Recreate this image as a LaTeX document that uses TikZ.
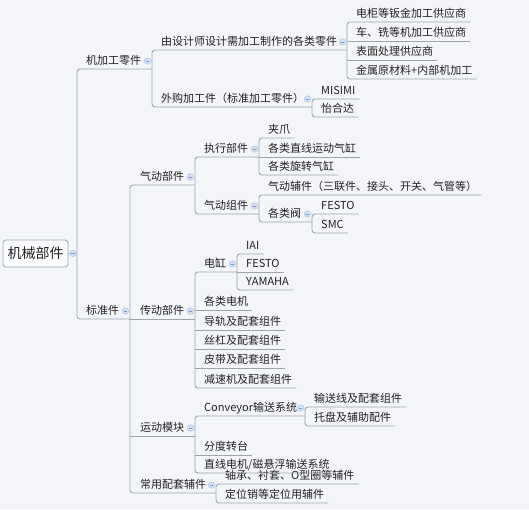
\documentclass[tikz,border=0pt]{standalone}
\usepackage{fontspec}
\newfontfamily\cjk{Noto Sans CJK SC}
\definecolor{bgc}{RGB}{243,245,249}
\definecolor{linec}{RGB}{160,164,170}
\definecolor{txtc}{RGB}{34,34,34}
\definecolor{icofill}{RGB}{214,226,243}
\definecolor{icodraw}{RGB}{172,196,230}
\definecolor{icominus}{RGB}{120,150,200}
\tikzset{
  conn/.style={draw=linec, line width=0.9pt, rounded corners=3pt},
  topic/.style={font=\cjk\fontsize{11}{13}\selectfont, text=txtc, inner xsep=4pt, inner ysep=0pt, text height=8pt, text depth=4pt, anchor=south west},
  ico/.style={circle, minimum size=6.5pt, inner sep=0pt, fill=icofill, draw=icodraw, line width=0.5pt,
    path picture={\draw[icominus, line width=0.6pt] ([xshift=-1.8pt]path picture bounding box.center) -- ([xshift=1.8pt]path picture bounding box.center);}},
  rootbox/.style={draw=linec, fill=white!60!bgc, rounded corners=3pt, line width=0.8pt, minimum width=65pt, minimum height=27pt, inner sep=0pt, font=\cjk\fontsize{14}{16}\selectfont, text=txtc}
}
\begin{document}
\begin{tikzpicture}[x=1pt,y=-1pt]
\fill[bgc] (0,0) rectangle (529,509);
\useasboundingbox (0,0) rectangle (529,509);
% bars
\coordinate (bA) at (77,0);
\coordinate (b1) at (152,0);
\coordinate (b11) at (347,0);
\coordinate (b12) at (312,0);
\coordinate (b2) at (130,0);
\coordinate (b21) at (195,0);
\coordinate (b22) at (195,0);
\coordinate (b23) at (195,0);
\coordinate (b24) at (216,0);
\coordinate (b211) at (259,0);
\coordinate (b212) at (259,0);
\coordinate (b2122) at (312,0);
\coordinate (b221) at (237,0);
\coordinate (b231) at (305,0);
% root
\node[rootbox] (root) at (35.5,253.5) {机械部件};
% level 2
\node[topic] (n1) at (82,69) {机加工零件};
\node[topic] (n2) at (82,319) {标准件};
% under n1
\node[topic] (n11) at (157,50) {由设计师设计需加工制作的各类零件};
\node[topic] (n12) at (157,107) {外购加工件（标准加工零件）};
\node[topic] (n111) at (352,22) {电柜等钣金加工供应商};
\node[topic] (n112) at (352,41) {车、铣等机加工供应商};
\node[topic] (n113) at (352,60) {表面处理供应商};
\node[topic] (n114) at (352,79) {金属原材料+内部机加工};
\node[topic] (n121) at (317,99) {MISIMI};
\node[topic] (n122) at (317,117) {怡合达};
% under n2
\node[topic] (n21) at (136,185) {气动部件};
\node[topic] (n22) at (136,319) {传动部件};
\node[topic] (n23) at (136,436) {运动模块};
\node[topic] (n24) at (136,493) {常用配套辅件};
% pneumatic
\node[topic] (n211) at (200,157) {执行部件};
\node[topic] (n212) at (200,214) {气动组件};
\node[topic] (n2111) at (264,138) {夹爪};
\node[topic] (n2112) at (264,157) {各类直线运动气缸};
\node[topic] (n2113) at (264,175) {各类旋转气缸};
\node[topic] (n2121) at (264,195) {气动辅件（三联件、接头、开关、气管等）};
\node[topic] (n2122) at (264,222) {各类阀};
\node[topic] (n21221) at (317,214) {FESTO};
\node[topic] (n21222) at (317,233) {SMC};
% transmission
\node[topic] (n221) at (200,272) {电缸};
\node[topic] (n222) at (200,310) {各类电机};
\node[topic] (n223) at (200,330) {导轨及配套组件};
\node[topic] (n224) at (200,349) {丝杠及配套组件};
\node[topic] (n225) at (200,368) {皮带及配套组件};
\node[topic] (n226) at (200,388) {减速机及配套组件};
\node[topic] (n2211) at (242,254) {IAI};
\node[topic] (n2212) at (242,272) {FESTO};
\node[topic] (n2213) at (242,290) {YAMAHA};
% motion modules
\node[topic] (n231) at (200,416) {Conveyor输送系统};
\node[topic] (n232) at (200,455) {分度转台};
\node[topic] (n233) at (200,473) {直线电机/磁悬浮输送系统};
\node[topic] (n2311) at (310,407) {输送线及配套组件};
\node[topic] (n2312) at (310,426) {托盘及辅助配件};
% accessories
\node[topic] (n241) at (221,484) {轴承、衬套、O型圈等辅件};
\node[topic] (n242) at (221,503) {定位销等定位用辅件};
% connectors
\draw[conn] (root.east) -- (bA |- root.east);
\draw[conn] (b1 |- n1.south) -- (bA |- n1.south) -- (bA |- n2.south) -- (b2 |- n2.south);
\draw[conn] (b11 |- n11.south) -- (b1 |- n11.south) -- (b1 |- n12.south) -- (b12 |- n12.south);
\draw[conn] (n111.south east) -- (b11 |- n111.south) -- (b11 |- n114.south) -- (n114.south east);
\draw[conn] (b11 |- n112.south) -- (n112.south east);
\draw[conn] (b11 |- n113.south) -- (n113.south east);
\draw[conn] (n121.south east) -- (b12 |- n121.south) -- (b12 |- n122.south) -- (n122.south east);
\draw[conn] (b21 |- n21.south) -- (b2 |- n21.south) -- (b2 |- n24.south) -- (b24 |- n24.south);
\draw[conn] (b2 |- n22.south) -- (b22 |- n22.south);
\draw[conn] (b2 |- n23.south) -- (b23 |- n23.south);
\draw[conn] (b211 |- n211.south) -- (b21 |- n211.south) -- (b21 |- n212.south) -- (b212 |- n212.south);
\draw[conn] (n2111.south east) -- (b211 |- n2111.south) -- (b211 |- n2113.south) -- (n2113.south east);
\draw[conn] (b211 |- n2112.south) -- (n2112.south east);
\draw[conn] (n2121.south east) -- (b212 |- n2121.south) -- (b212 |- n2122.south) -- (b2122 |- n2122.south);
\draw[conn] (n21221.south east) -- (b2122 |- n21221.south) -- (b2122 |- n21222.south) -- (n21222.south east);
\draw[conn] (b221 |- n221.south) -- (b22 |- n221.south) -- (b22 |- n226.south) -- (n226.south east);
\draw[conn] (b22 |- n222.south) -- (n222.south east);
\draw[conn] (b22 |- n223.south) -- (n223.south east);
\draw[conn] (b22 |- n224.south) -- (n224.south east);
\draw[conn] (b22 |- n225.south) -- (n225.south east);
\draw[conn] (n2211.south east) -- (b221 |- n2211.south) -- (b221 |- n2213.south) -- (n2213.south east);
\draw[conn] (b221 |- n2212.south) -- (n2212.south east);
\draw[conn] (b231 |- n231.south) -- (b23 |- n231.south) -- (b23 |- n233.south) -- (n233.south east);
\draw[conn] (b23 |- n232.south) -- (n232.south east);
\draw[conn] (n2311.south east) -- (b231 |- n2311.south) -- (b231 |- n2312.south) -- (n2312.south east);
\draw[conn] (n241.south east) -- (b24 |- n241.south) -- (b24 |- n242.south) -- (n242.south east);
% collapse icons
\node[ico] (i0) at (73,253.5) {};
\node[ico] (i1) at (147.5,61) {};
\node[ico] (i2) at (125.5,311) {};
\node[ico] (i11) at (342.5,42) {};
\node[ico] (i12) at (307.5,99) {};
\node[ico] (i21) at (190.5,177) {};
\node[ico] (i22) at (190.5,311) {};
\node[ico] (i23) at (190.5,428) {};
\node[ico] (i24) at (211.5,485) {};
\node[ico] (i211) at (254.5,149) {};
\node[ico] (i212) at (254.5,206) {};
\node[ico] (i2122) at (307.5,214) {};
\node[ico] (i221) at (232.5,264) {};
\node[ico] (i231) at (300.5,408) {};
\end{tikzpicture}
\end{document}
